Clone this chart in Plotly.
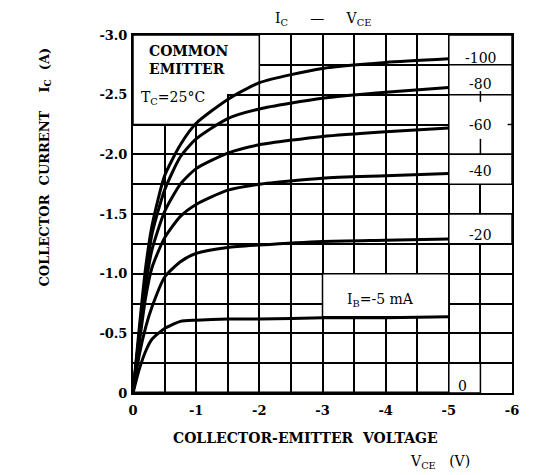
import plotly.graph_objects as go

# Collector-emitter voltage (V) sample points
vce = [0, -0.1, -0.2, -0.3, -0.5, -0.75, -1.0, -1.5, -2.0, -3.0, -4.0, -5.0]

# Collector current (A) for each base current
ic_100 = [0, -0.55, -1.05, -1.40, -1.82, -2.08, -2.26, -2.46, -2.60, -2.72, -2.77, -2.80]
ic_80 = [0, -0.50, -0.98, -1.33, -1.70, -1.98, -2.13, -2.30, -2.38, -2.47, -2.52, -2.56]
ic_60 = [0, -0.48, -0.90, -1.20, -1.52, -1.75, -1.88, -2.01, -2.08, -2.15, -2.19, -2.22]
ic_40 = [0, -0.42, -0.80, -1.05, -1.30, -1.48, -1.58, -1.70, -1.75, -1.80, -1.82, -1.84]
ic_20 = [0, -0.32, -0.55, -0.72, -0.97, -1.10, -1.17, -1.22, -1.24, -1.27, -1.28, -1.29]
ic_5 = [0, -0.20, -0.35, -0.45, -0.54, -0.60, -0.61, -0.62, -0.62, -0.63, -0.63, -0.64]
ic_0 = [0, 0, 0, 0, 0, 0, 0, 0, 0, 0, 0, 0]

series = [ic_100, ic_80, ic_60, ic_40, ic_20, ic_5, ic_0]

# Labels
ib_labels = ["-100", "-80", "-60", "-40", "-20"]
ib_label_ic = [-2.81, -2.59, -2.25, -1.86, -1.32]
x_tick_vals = [0, -1, -2, -3, -4, -5, -6]
x_tick_text = ["0", "-1", "-2", "-3", "-4", "-5", "-6"]
y_tick_vals = [0, -0.5, -1.0, -1.5, -2.0, -2.5, -3.0]
y_tick_text = ["0", "-0.5", "-1.0", "-1.5", "-2.0", "-2.5", "-3.0"]

FONT = "DejaVu Serif"

fig = go.Figure()
for s in series:
    fig.add_trace(go.Scatter(x=vce, y=s, mode="lines",
                             line=dict(color="black", width=3, shape="spline", smoothing=0.6),
                             showlegend=False, hoverinfo="skip"))

shape_style = dict(fillcolor="white", line=dict(color="black", width=1.5), layer="between", xref="x", yref="y")
stub_style = dict(type="line", line=dict(color="black", width=1.5), layer="between", xref="x", yref="y")
shapes = [
    dict(type="path", path="M 0,-3 L -2,-3 L -2,-2.5 L -1.5,-2.5 L -1.5,-2.25 L 0,-2.25 Z", **shape_style),
    dict(type="rect", x0=-3, x1=-5, y0=-0.64, y1=-1.0, **shape_style),
    dict(type="rect", x0=-5, x1=-6, y0=-2.75, y1=-3.0, **shape_style),
    dict(type="rect", x0=-5, x1=-6, y0=-2.5, y1=-2.75, **shape_style),
    dict(type="rect", x0=-5, x1=-6, y0=-2.0, y1=-2.5, **shape_style),
    dict(type="rect", x0=-5, x1=-6, y0=-1.75, y1=-2.0, **shape_style),
    dict(type="rect", x0=-5, x1=-6, y0=-1.25, y1=-1.5, **shape_style),
    dict(type="rect", x0=-5, x1=-5.5, y0=0, y1=-0.25, **shape_style),
    dict(x0=-5.5, x1=-5.5, y0=-2.44, y1=-2.53, **stub_style),
    dict(x0=-5.5, x1=-5.5, y0=-2.0, y1=-2.13, **stub_style),
    dict(x0=-5.93, x1=-6, y0=-2.25, y1=-2.25, **stub_style),
]

def f(size, bold=False):
    d = dict(family=FONT, size=size, color="black")
    if bold:
        d["weight"] = "bold"
    return d

ann = []
for lab, yv in zip(ib_labels, ib_label_ic):
    ann.append(dict(x=-5.5, y=yv, xref="x", yref="y", text=lab, showarrow=False,
                    xanchor="center", yanchor="middle", font=f(14)))
ann.append(dict(x=-5.22, y=-0.06, xref="x", yref="y", text="0", showarrow=False,
                xanchor="center", yanchor="middle", font=f(14)))
ann.append(dict(x=-3.35, y=-0.78, xref="x", yref="y", text="I<sub>B</sub>=-5 mA", showarrow=False,
                xanchor="left", yanchor="middle", font=f(14)))
ann.append(dict(x=-0.22, y=-2.79, xref="x", yref="y", text="COMMON<br>EMITTER", showarrow=False,
                xanchor="left", yanchor="middle", align="left", font=f(14, True)))
ann.append(dict(x=-0.1, y=-2.47, xref="x", yref="y", text="T<sub>C</sub>=25°C", showarrow=False,
                xanchor="left", yanchor="middle", font=f(14)))
ann.append(dict(x=0.5, y=1.075, xref="paper", yref="paper", text="I<sub>C</sub>     —     V<sub>CE</sub>",
                showarrow=False, xanchor="center", yanchor="top", font=f(14)))
ann.append(dict(x=-0.232, y=0.63, xref="paper", yref="paper",
                text="COLLECTOR  CURRENT    I<sub>C</sub>  (A)",
                textangle=-90, showarrow=False, xanchor="center", yanchor="middle", font=f(13, True)))
ann.append(dict(x=0.455, y=-0.126, xref="paper", yref="paper", text="COLLECTOR-EMITTER  VOLTAGE",
                showarrow=False, xanchor="center", yanchor="middle", font=f(14, True)))
ann.append(dict(x=0.81, y=-0.193, xref="paper", yref="paper", text="V<sub>CE</sub>   (V)",
                showarrow=False, xanchor="center", yanchor="middle", font=f(14)))

fig.update_layout(
    width=545, height=467,
    margin=dict(l=125, r=41, t=27, b=82),
    paper_bgcolor="white", plot_bgcolor="white",
    shapes=shapes, annotations=ann,
    xaxis=dict(range=[0, -6], tickvals=x_tick_vals, ticktext=x_tick_text,
               showgrid=True, gridcolor="black", gridwidth=1.5,
               minor=dict(dtick=0.5, tick0=0, showgrid=True, gridcolor="black", gridwidth=1.5),
               showline=True, mirror=True, linecolor="black", linewidth=2, zeroline=False,
               ticks="", ticklabelstandoff=4, tickfont=f(13, True)),
    yaxis=dict(range=[0, -3], tickvals=y_tick_vals, ticktext=y_tick_text,
               showgrid=True, gridcolor="black", gridwidth=1.5,
               minor=dict(dtick=0.25, tick0=0, showgrid=True, gridcolor="black", gridwidth=1.5),
               showline=True, mirror=True, linecolor="black", linewidth=2, zeroline=False,
               ticks="", ticklabelstandoff=1, tickfont=f(13, True)),
)

fig.write_html("out.html")
